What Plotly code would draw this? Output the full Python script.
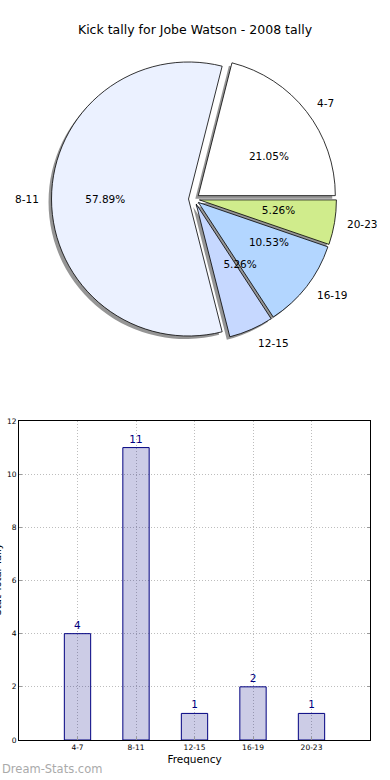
import plotly.graph_objects as go

# ---- data ----
title_text = "Kick tally for Jobe Watson - 2008 tally"
categories = ["4-7", "8-11", "12-15", "16-19", "20-23"]
counts = [4, 11, 1, 2, 1]
pie_colors = ["#FFFFFF", "#EBF1FF", "#C6D8FF", "#B3D6FF", "#D0EC8C"]
y_ticks = [0, 2, 4, 6, 8, 10, 12]
x_label = "Frequency"
y_label = "Stat Total Tally"
watermark = "Dream-Stats.com"

W, H = 390, 780
FONT = "DejaVu Sans"

# pie geometry (pixels)
CX, CY, R = 194, 199, 137
PULL = 0.04
# first slice starts at 3 o'clock and runs counterclockwise (plotly rotation
# marks the clockwise edge of the first slice when direction is counterclockwise)
ROT = 90 - 360 * counts[0] / sum(counts)


def dom(cx, cy, r, pull):
    half = r * (1 + pull)
    return dict(x=[(cx - half) / W, (cx + half) / W],
                y=[1 - (cy + half) / H, 1 - (cy - half) / H])


common = dict(labels=categories, values=counts, sort=False,
              direction="counterclockwise", rotation=ROT,
              pull=[PULL] * len(categories), showlegend=False,
              hoverinfo="skip")

fig = go.Figure()
# shadow
fig.add_trace(go.Pie(**common, domain=dom(CX - 3, CY + 3, R, PULL),
                     marker=dict(colors=["#8a8a8a"] * 5, line=dict(width=0)),
                     textinfo="none", opacity=0.9))
# main pie
fig.add_trace(go.Pie(**common, domain=dom(CX, CY, R, PULL),
                     marker=dict(colors=pie_colors, line=dict(color="black", width=0.8)),
                     textinfo="none"))
# percentage labels (transparent helper pie, smaller radius)
fig.add_trace(go.Pie(**common, domain=dom(CX, CY, R * 0.44, PULL * 2.27),
                     marker=dict(colors=["rgba(0,0,0,0)"] * 5, line=dict(width=0)),
                     texttemplate="%{percent:.2%}", textposition="outside",
                     outsidetextfont=dict(family=FONT, size=10.5, color="black")))
# category labels (transparent helper pie, larger radius)
fig.add_trace(go.Pie(**common, domain=dom(CX, CY, R * 1.07, PULL / 1.07),
                     marker=dict(colors=["rgba(0,0,0,0)"] * 5, line=dict(width=0)),
                     texttemplate="%{label}", textposition="outside",
                     outsidetextfont=dict(family=FONT, size=10.5, color="black")))

# bar chart
fig.add_trace(go.Bar(x=categories, y=counts, width=0.45,
                     marker=dict(color="rgba(0,0,128,0.2)",
                                 line=dict(color="#000080", width=1)),
                     text=[str(c) for c in counts], textposition="outside",
                     textfont=dict(family=FONT, size=10.5, color="#000080"),
                     cliponaxis=False, showlegend=False, hoverinfo="skip"))

fig.update_layout(
    width=W, height=H, margin=dict(l=0, r=0, t=0, b=0, autoexpand=False),
    paper_bgcolor="white", plot_bgcolor="white",
    font=dict(family=FONT, color="black"),
    title=dict(text=title_text, x=0.5, xanchor="center", y=1 - 30 / H,
               yanchor="middle", yref="container",
               font=dict(family=FONT, size=12.5, color="black")),
    xaxis=dict(domain=[19 / W, 370 / W], range=[-1, 5], type="category",
               categoryorder="array", categoryarray=categories,
               automargin=False,
               showline=True, linecolor="black", linewidth=1, mirror=True,
               ticks="inside", ticklen=3, tickcolor="#999",
               showgrid=True, gridcolor="#bdbdbd", griddash="1px,2px", gridwidth=1,
               tickfont=dict(family=FONT, size=7.5, color="black"),
               title=dict(text=x_label, standoff=4,
                          font=dict(family=FONT, size=10.5, color="black")),
               zeroline=False),
    yaxis=dict(domain=[(H - 740) / H, (H - 421) / H], range=[0, 12],
               automargin=False,
               tickvals=y_ticks, showline=True, linecolor="black", linewidth=1,
               mirror="ticks", ticks="inside", ticklen=3, tickcolor="#999",
               showgrid=True, gridcolor="#bdbdbd", griddash="1px,2px", gridwidth=1,
               tickfont=dict(family=FONT, size=7.5, color="black"),
               zeroline=False),
    annotations=[
        dict(text=y_label, x=0, y=(H - 580) / H, xref="paper", yref="paper",
             xanchor="right", yanchor="middle", textangle=-90, xshift=4,
             showarrow=False, font=dict(family=FONT, size=10, color="black")),
        dict(text=watermark, x=0, y=(H - 769) / H, xref="paper", yref="paper",
             xanchor="left", yanchor="middle", showarrow=False,
             font=dict(family=FONT, size=11.5, color="#aaaaaa")),
    ],
)

fig.write_html("out.html",
               config={"displayModeBar": False},
               post_script="document.body.style.margin='0';"
                           "document.body.style.padding='0';")
